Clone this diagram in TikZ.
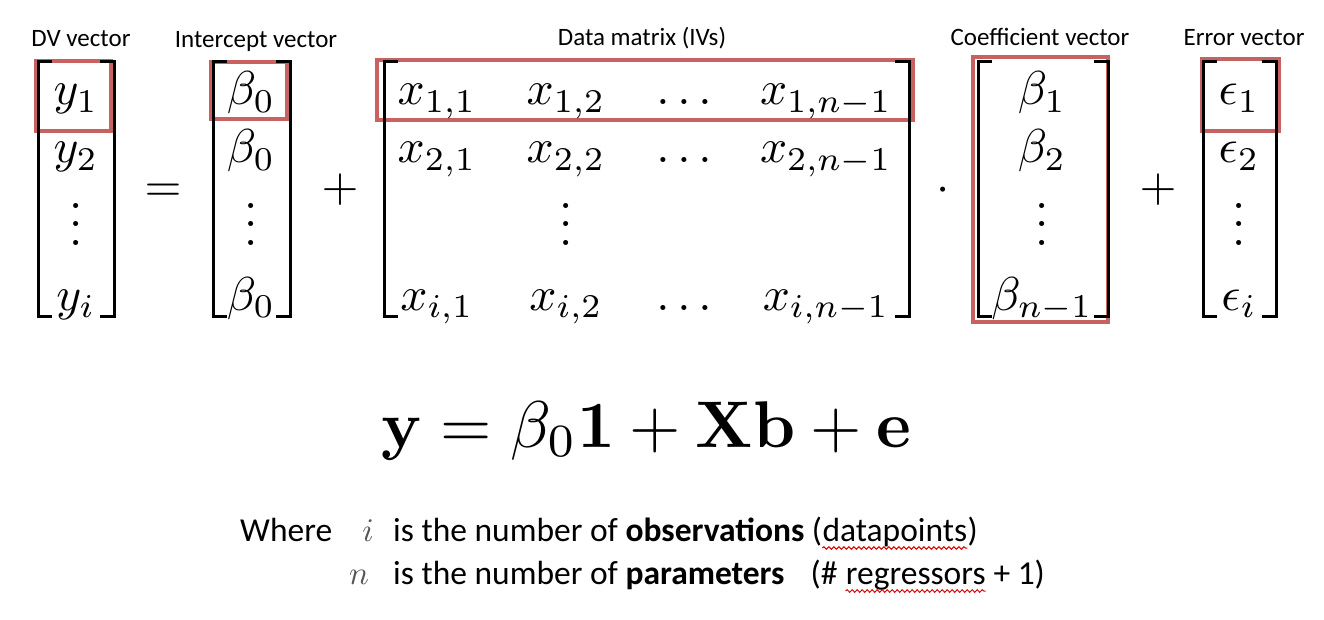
\documentclass[tikz,border=0pt]{standalone}
\usepackage[no-math]{fontspec}
\newfontfamily\calib{Carlito}
\usetikzlibrary{decorations.pathmorphing}
\definecolor{boxred}{RGB}{200,98,96}
\definecolor{mgray}{RGB}{85,85,85}
\newcommand{\mym}[1]{\scalebox{4.75}{$#1$}}
\newcommand{\myvdots}{\vbox{\baselineskip4pt\lineskiplimit0pt\hbox{.}\hbox{.}\hbox{.}}}
\tikzset{
  brk/.style={line width=3pt, line join=miter},
  redbox/.style={draw=boxred, line width=3.5pt},
  ent/.style={anchor=base, inner sep=0pt},
  captxt/.style={anchor=base, inner sep=0pt, font=\calib\fontsize{25}{30}\selectfont},
  txt/.style={anchor=base west, inner sep=0pt, font=\calib\fontsize{33.5}{38}\selectfont},
  squig/.style={draw=red!85!black, line width=1pt, decorate, decoration={snake, segment length=5pt, amplitude=1.3pt}}
}
\begin{document}
\begin{tikzpicture}[x=1pt,y=-1pt]
\useasboundingbox (0,0) rectangle (1324,620);
\fill[white] (0,0) rectangle (1324,620);

% captions
\node[captxt] (c1) at (81,47) {DV vector};
\node[captxt] (c2) at (256,48) {Intercept vector};
\node[captxt] (c3) at (642,46) {Data matrix (IVs)};
\node[captxt] (c4) at (1040,46) {Coefficient vector};
\node[captxt] (c5) at (1244,46) {Error vector};

% red highlight boxes
\draw[redbox] (35.7,61) rectangle (111,131);
\draw[redbox] (211,62) rectangle (287,119);
\draw[redbox] (377,60) rectangle (913,120);
\draw[redbox] (973,57) rectangle (1108,322);
\draw[redbox] (1202,59) rectangle (1279,131);

% brackets
\newcommand{\lbrk}[1]{\draw[brk] (#1+14,62) -- (#1,62) -- (#1,316) -- (#1+14,316);}
\newcommand{\rbrk}[1]{\draw[brk] (#1-14,62) -- (#1,62) -- (#1,316) -- (#1-14,316);}
\lbrk{38}\rbrk{114}
\lbrk{213}\rbrk{290}
\lbrk{384}\rbrk{909}
\lbrk{978}\rbrk{1108}
\lbrk{1203}\rbrk{1276}

% DV vector
\node[ent] (y1) at (76,105) {\mym{y_1}};
\node[ent] (y2) at (76,163) {\mym{y_2}};
\node[ent] (yv) at (76,246) {\mym{\myvdots}};
\node[ent] (yi) at (76,310) {\mym{y_i}};
% intercept
\node[ent] (b01) at (251,105) {\mym{\beta_0}};
\node[ent] (b02) at (251,163) {\mym{\beta_0}};
\node[ent] (b0v) at (251,246) {\mym{\myvdots}};
\node[ent] (b0i) at (251,310) {\mym{\beta_0}};
% data matrix
\node[ent] (x11) at (437,105) {\mym{x_{1,1}}};
\node[ent] (x12) at (566,105) {\mym{x_{1,2}}};
\node[ent] (x1d) at (684,105) {\mym{\ldots}};
\node[ent] (x1n) at (826,105) {\mym{x_{1,n-1}}};
\node[ent] (x21) at (437,163) {\mym{x_{2,1}}};
\node[ent] (x22) at (566,163) {\mym{x_{2,2}}};
\node[ent] (x2d) at (684,163) {\mym{\ldots}};
\node[ent] (x2n) at (826,163) {\mym{x_{2,n-1}}};
\node[ent] (xv) at (566,246) {\mym{\myvdots}};
\node[ent] (xi1) at (437,310) {\mym{x_{i,1}}};
\node[ent] (xi2) at (566,310) {\mym{x_{i,2}}};
\node[ent] (xid) at (684,310) {\mym{\ldots}};
\node[ent] (xin) at (826,310) {\mym{x_{i,n-1}}};
% coefficients
\node[ent] (bb1) at (1042,105) {\mym{\beta_1}};
\node[ent] (bb2) at (1042,163) {\mym{\beta_2}};
\node[ent] (bbv) at (1042,246) {\mym{\myvdots}};
\node[ent] (bbn) at (1042,310) {\mym{\beta_{n-1}}};
% errors
\node[ent] (e1) at (1239,105) {\mym{\epsilon_1}};
\node[ent] (e2) at (1239,163) {\mym{\epsilon_2}};
\node[ent] (ev) at (1239,246) {\mym{\myvdots}};
\node[ent] (ei) at (1239,310) {\mym{\epsilon_i}};

% operators
\node[ent] (op1) at (163,202) {\mym{=}};
\node[ent] (op2) at (340,202) {\mym{+}};
\node[ent] (op3) at (943,202) {\mym{\cdot}};
\node[ent] (op4) at (1158,202) {\mym{+}};

% compact equation
\node[ent] (eq) at (646,447) {\scalebox{6.6}{$\mathbf{y}=\beta_0\mathbf{1}+\mathbf{X}\mathbf{b}+\mathbf{e}$}};

% explanation
\node[txt] (wh) at (240,541) {Where};
\node[ent, text=mgray] (iv) at (368,541) {\scalebox{3.3}{$i$}};
\node[txt] (l1a) at (393,541) {is the number of \textbf{observations} (};
\node[txt] (dp) at (l1a.base east) {datapoints};
\node[txt] (l1c) at (dp.base east) {)};
\node[ent, text=mgray] (nv) at (359,584) {\scalebox{3.3}{$n$}};
\node[txt] (l2a) at (393,584) {is the number of \textbf{parameters}\hspace{26pt}(\#};
\node[txt] (rg) at ([xshift=8pt]l2a.base east) {regressors};
\node[txt] (l2c) at (rg.base east) {\ + 1)};
\draw[squig] ([yshift=-7pt]dp.base west) -- ([yshift=-7pt]dp.base east);
\draw[squig] ([yshift=-7pt]rg.base west) -- ([yshift=-7pt]rg.base east);
\end{tikzpicture}
\end{document}
